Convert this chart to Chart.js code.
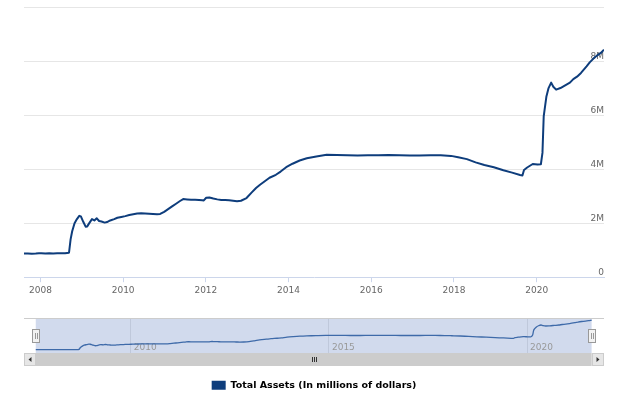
<!DOCTYPE html>
<html>
<head>
<meta charset="utf-8">
<script src="https://cdn.jsdelivr.net/npm/chart.js@4.4.1/dist/chart.umd.min.js"></script>
<style>
  body { margin: 0; background: #fff; }
  #wrap { position: relative; width: 624px; height: 402px; }
  #mainBox { position: absolute; left: 0; top: 0; width: 624px; height: 300px; }
  #navBox { position: absolute; left: 0; top: 305px; width: 624px; height: 97px; }
</style>
</head>
<body>
<div id="wrap">
  <div id="mainBox"><canvas id="mainChart"></canvas></div>
  <div id="navBox"><canvas id="navChart"></canvas></div>
</div>
<script>
// weekly Fed balance sheet (millions of dollars)
const dates = [
  '2007-08-09','2007-09-12','2007-10-17','2007-11-21','2007-12-19','2008-01-09','2008-02-13','2008-03-19',
  '2008-04-23','2008-05-28','2008-07-02','2008-08-06','2008-09-10','2008-09-24','2008-10-08','2008-10-29',
  '2008-11-19','2008-12-10','2008-12-24','2009-01-14','2009-02-04','2009-02-18','2009-03-11','2009-04-01',
  '2009-04-22','2009-05-13','2009-06-03','2009-06-24','2009-07-22','2009-08-12','2009-09-09','2009-10-14',
  '2009-11-11','2009-12-16','2010-01-20','2010-02-24','2010-03-31','2010-05-05','2010-06-09','2010-07-14',
  '2010-08-18','2010-09-22','2010-10-27','2010-11-24','2010-12-29','2011-02-02','2011-03-09','2011-04-13',
  '2011-05-18','2011-06-15','2011-07-20','2011-08-24','2011-09-28','2011-11-02','2011-11-30','2011-12-14',
  '2012-01-04','2012-02-01','2012-03-07','2012-04-11','2012-05-16','2012-06-20','2012-07-25','2012-08-29',
  '2012-10-03','2012-11-07','2012-12-26','2013-02-06','2013-03-20','2013-04-24','2013-06-05','2013-07-17',
  '2013-09-11','2013-10-23','2013-12-11','2014-02-05','2014-04-09','2014-06-11','2014-09-03','2014-12-03',
  '2015-03-04','2015-06-03','2015-09-02','2015-12-02','2016-03-02','2016-06-01','2016-09-07','2016-12-07',
  '2017-03-01','2017-06-07','2017-09-06','2017-12-06','2018-02-07','2018-04-25','2018-07-11','2018-09-26',
  '2018-12-19','2019-03-13','2019-05-29','2019-08-07','2019-08-28','2019-09-11','2019-10-09','2019-11-27',
  '2020-01-08','2020-02-07','2020-02-21','2020-03-03','2020-03-27','2020-04-15','2020-05-08','2020-05-27',
  '2020-06-21','2020-07-29','2020-09-09','2020-10-21','2020-11-20','2020-12-23','2021-01-27','2021-03-17',
  '2021-04-14','2021-05-19','2021-06-23','2021-07-21','2021-08-18'
];
const assets = [
  880000, 878000, 872000, 876000, 885000, 890000, 877000, 882000,
  880000, 886000, 884000, 890000, 905000, 1400000, 1700000, 2000000,
  2150000, 2270000, 2250000, 2050000, 1870000, 1880000, 2020000, 2150000,
  2100000, 2180000, 2080000, 2060000, 2020000, 2040000, 2100000, 2150000,
  2200000, 2230000, 2260000, 2300000, 2330000, 2360000, 2370000, 2360000,
  2350000, 2340000, 2330000, 2340000, 2420000, 2520000, 2620000, 2720000,
  2820000, 2890000, 2880000, 2870000, 2870000, 2860000, 2850000, 2840000,
  2940000, 2950000, 2910000, 2880000, 2860000, 2860000, 2850000, 2830000,
  2810000, 2830000, 2930000, 3120000, 3300000, 3420000, 3550000, 3680000,
  3790000, 3910000, 4070000, 4200000, 4320000, 4400000, 4470000, 4530000,
  4520000, 4510000, 4500000, 4510000, 4510000, 4520000, 4510000, 4500000,
  4500000, 4510000, 4510000, 4490000, 4440000, 4370000, 4250000, 4150000,
  4070000, 3960000, 3870000, 3780000, 3760000, 3970000, 4060000, 4190000,
  4170000, 4180000, 4600000, 5950000, 6690000, 7000000, 7200000, 7050000,
  6940000, 7000000, 7100000, 7200000, 7330000, 7420000, 7560000, 7800000,
  7950000, 8100000, 8220000, 8300000, 8420000
];
const seriesName = 'Total Assets (In millions of dollars)';
const xTicks = [2008, 2010, 2012, 2014, 2016, 2018, 2020];
const navTicks = [2010, 2015, 2020];
const yTicks = [0, 2000000, 4000000, 6000000, 8000000];
const yTickLabels = ['0', '2M', '4M', '6M', '8M'];

Chart.defaults.font.family = '"DejaVu Sans", sans-serif';
Chart.defaults.font.size = 9;
Chart.defaults.color = '#666';

function toYear(s) {
  const p = s.split('-').map(Number);
  const t0 = Date.UTC(p[0], 0, 1), t1 = Date.UTC(p[0] + 1, 0, 1);
  return p[0] + (Date.UTC(p[0], p[1] - 1, p[2]) - t0) / (t1 - t0);
}
const years = dates.map(toYear);
const points = years.map((x, i) => ({ x: x, y: assets[i] }));
const first = years[0], last = years[years.length - 1];

// y labels sit just above their grid line, inside the plot
const yLabels = {
  id: 'yLabels',
  beforeDatasetsDraw(chart) {
    const { ctx, chartArea, scales } = chart;
    ctx.save();
    ctx.font = '9px "DejaVu Sans"';
    ctx.fillStyle = '#666';
    ctx.textAlign = 'right';
    ctx.textBaseline = 'alphabetic';
    yTicks.forEach((v, i) => {
      ctx.fillText(yTickLabels[i], chartArea.right, scales.y.getPixelForValue(v) - 2);
    });
    ctx.restore();
  }
};

new Chart(document.getElementById('mainChart'), {
  type: 'line',
  data: {
    datasets: [{
      label: seriesName,
      data: points,
      borderColor: '#0e3d7c',
      borderWidth: 2,
      pointRadius: 0,
      tension: 0,
      borderJoinStyle: 'round'
    }]
  },
  options: {
    responsive: true,
    maintainAspectRatio: false,
    animation: false,
    layout: { padding: { left: 24, right: 20, top: 7, bottom: 1 } },
    plugins: { legend: { display: false }, tooltip: { enabled: false } },
    scales: {
      x: {
        type: 'linear',
        min: first,
        max: last,
        afterBuildTicks: (s) => { s.ticks = xTicks.map(v => ({ value: v })); },
        ticks: { callback: (v) => String(v), padding: 3, color: '#666', maxRotation: 0, autoSkip: false },
        grid: { drawOnChartArea: false, drawTicks: true, tickLength: 5, color: '#ccd6eb' },
        border: { color: '#ccd6eb' }
      },
      y: {
        position: 'right',
        min: 0,
        max: 10000000,
        ticks: { display: false, stepSize: 2000000 },
        grid: {
          drawTicks: false,
          color: (c) => (c.tick && c.tick.value === 0) ? 'rgba(0,0,0,0)' : '#e6e6e6'
        },
        border: { display: false }
      }
    }
  },
  plugins: [yLabels]
});

// navigator: mask, handles, outline and scrollbar
const navigator = {
  id: 'navigator',
  beforeDatasetsDraw(chart) {
    const { ctx, chartArea: a, scales } = chart;
    const x0 = scales.x.getPixelForValue(first), x1 = scales.x.getPixelForValue(last);
    ctx.save();
    ctx.fillStyle = 'rgba(102,133,194,0.3)';
    ctx.fillRect(x0, a.top, x1 - x0, a.bottom - a.top);
    ctx.font = '9px "DejaVu Sans"';
    ctx.fillStyle = '#999';
    ctx.textAlign = 'left';
    ctx.textBaseline = 'alphabetic';
    navTicks.forEach(v => ctx.fillText(String(v), scales.x.getPixelForValue(v) + 3, a.bottom - 3));
    ctx.restore();
  },
  afterDatasetsDraw(chart) {
    const { ctx, chartArea: a, scales } = chart;
    const x0 = scales.x.getPixelForValue(first), x1 = scales.x.getPixelForValue(last);
    ctx.save();
    // outline
    ctx.strokeStyle = '#cccccc';
    ctx.lineWidth = 1;
    ctx.beginPath();
    ctx.moveTo(a.left, Math.round(a.top) + 0.5);
    ctx.lineTo(a.right, Math.round(a.top) + 0.5);
    ctx.stroke();
    // scrollbar
    const sy = a.bottom, sh = 13, bw = 12;
    ctx.fillStyle = '#f2f2f2';
    ctx.fillRect(a.left, sy, a.right - a.left, sh);
    ctx.fillStyle = '#cccccc';
    ctx.fillRect(x0, sy, x1 - x0, sh);
    [[a.left, -1], [a.right - bw, 1]].forEach(([bx, dir]) => {
      ctx.fillStyle = '#e6e6e6';
      ctx.fillRect(bx, sy, bw, sh);
      ctx.strokeStyle = '#cccccc';
      ctx.strokeRect(Math.round(bx) + 0.5, Math.round(sy) + 0.5, bw - 1, sh - 1);
      const cx = bx + bw / 2, cy = sy + sh / 2;
      ctx.fillStyle = '#333';
      ctx.beginPath();
      ctx.moveTo(cx + dir * 1.5, cy);
      ctx.lineTo(cx - dir * 1.5, cy - 2.5);
      ctx.lineTo(cx - dir * 1.5, cy + 2.5);
      ctx.closePath();
      ctx.fill();
    });
    // grip
    const gx = Math.round((x0 + x1) / 2), gy = sy + sh / 2;
    ctx.strokeStyle = '#333';
    [-2, 0, 2].forEach(d => {
      ctx.beginPath();
      ctx.moveTo(gx + d + 0.5, gy - 2.5);
      ctx.lineTo(gx + d + 0.5, gy + 2.5);
      ctx.stroke();
    });
    // handles
    const my = (a.top + a.bottom) / 2;
    [x0, x1].forEach(hx => {
      const rx = Math.round(hx) - 3.5;
      ctx.fillStyle = '#f2f2f2';
      ctx.fillRect(rx, Math.round(my) - 6.5, 7, 13);
      ctx.strokeStyle = '#999';
      ctx.strokeRect(rx, Math.round(my) - 6.5, 7, 13);
      ctx.beginPath();
      ctx.moveTo(rx + 2.5 + 0.5, Math.round(my) - 3);
      ctx.lineTo(rx + 2.5 + 0.5, Math.round(my) + 3);
      ctx.moveTo(rx + 4.5 + 0.5, Math.round(my) - 3);
      ctx.lineTo(rx + 4.5 + 0.5, Math.round(my) + 3);
      ctx.stroke();
    });
    ctx.restore();
  }
};

new Chart(document.getElementById('navChart'), {
  type: 'line',
  data: {
    datasets: [{
      label: seriesName,
      data: points,
      borderColor: '#3e6aa9',
      borderWidth: 1.3,
      pointRadius: 0,
      tension: 0.3
    }]
  },
  options: {
    responsive: true,
    maintainAspectRatio: false,
    animation: false,
    layout: { padding: { left: 24, right: 20, top: 13, bottom: 2 } },
    plugins: {
      tooltip: { enabled: false },
      legend: {
        position: 'bottom',
        labels: {
          boxWidth: 14,
          boxHeight: 9,
          padding: 6,
          color: '#333',
          font: { size: 9.5, weight: 'bold' },
          generateLabels: () => [{
            text: seriesName,
            fillStyle: '#0e3d7c',
            strokeStyle: '#0e3d7c',
            lineWidth: 0,
            datasetIndex: 0
          }]
        }
      }
    },
    scales: {
      x: {
        type: 'linear',
        min: 2007.306,
        max: 2021.94,
        afterBuildTicks: (s) => { s.ticks = navTicks.map(v => ({ value: v })); },
        ticks: { display: false },
        grid: { drawOnChartArea: true, drawTicks: true, tickLength: 21.5, color: '#e6e6e6', tickColor: 'rgba(0,0,0,0)' },
        border: { display: false }
      },
      y: { display: false, min: 0, max: 9000000 }
    }
  },
  plugins: [navigator]
});
</script>
</body>
</html>
